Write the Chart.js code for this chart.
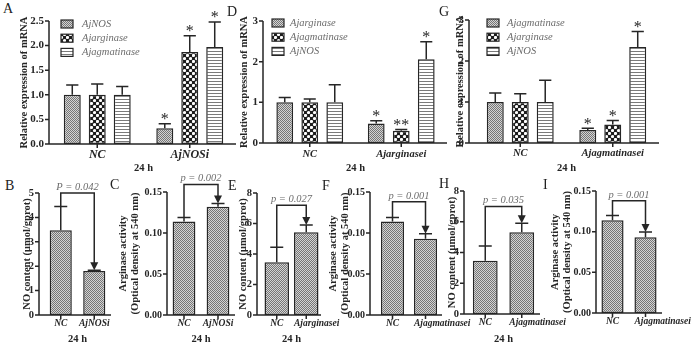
<!DOCTYPE html>
<html>
<head>
<meta charset="utf-8">
<script src="https://cdn.jsdelivr.net/npm/chart.js@4.4.1/dist/chart.umd.min.js"></script>
<style>
  html, body { margin: 0; padding: 0; background: #fff; }
  #fig { position: relative; width: 700px; height: 345px; overflow: hidden; background: #fff; }
  #fig canvas { position: absolute; }
  .tag { position: absolute; font: 14px/14px 'Liberation Serif', 'Times New Roman', serif; color: #222; }
</style>
</head>
<body>
<div id="fig"></div>
<script>
// ---- top row: relative expression of mRNA (mean and SD per gene) ----
const groupsA = ['NC', 'AjNOSi'];
const genesA = ['AjNOS', 'Ajarginase', 'Ajagmatinase'];
const meanA = [[1.00, 0.32], [1.00, 1.87], [1.00, 1.97]];
const sdA = [[0.20, 0.09], [0.22, 0.33], [0.17, 0.51]];
const starA = [['', '*'], ['', '*'], ['', '*']];

const groupsD = ['NC', 'Ajarginasei'];
const genesD = ['Ajarginase', 'Ajagmatinase', 'AjNOS'];
const meanD = [[1.00, 0.48], [1.00, 0.30], [1.00, 2.06]];
const sdD = [[0.12, 0.07], [0.08, 0.03], [0.43, 0.43]];
const starD = [['', '*'], ['', '**'], ['', '*']];

const groupsG = ['NC', 'Ajagmatinasei'];
const genesG = ['Ajagmatinase', 'Ajarginase', 'AjNOS'];
const meanG = [[1.00, 0.32], [1.00, 0.45], [1.00, 2.34]];
const sdG = [[0.22, 0.04], [0.20, 0.10], [0.53, 0.38]];
const starG = [['', '*'], ['', '*'], ['', '*']];

const ticksA = [0, 0.5, 1, 1.5, 2, 2.5];
const ticksDG = [0, 1, 2, 3];

// ---- bottom row: NO content and arginase activity ----
const groupsB = ['NC', 'AjNOSi'];
const meanB = [3.47, 1.80];
const sdB = [0.98, 0.03];

const groupsC = ['NC', 'AjNOSi'];
const meanC = [0.114, 0.132];
const sdC = [0.005, 0.004];

const groupsE = ['NC', 'Ajarginasei'];
const meanE = [3.46, 5.42];
const sdE = [0.98, 0.48];

const groupsF = ['NC', 'Ajagmatinasei'];
const meanF = [0.114, 0.093];
const sdF = [0.005, 0.006];

const groupsH = ['NC', 'Ajagmatinasei'];
const meanH = [3.47, 5.32];
const sdH = [0.95, 0.58];

const groupsI = ['NC', 'Ajagmatinasei'];
const meanI = [0.114, 0.093];
const sdI = [0.006, 0.0065];

const ticksNO5 = [0, 1, 2, 3, 4, 5];
const ticksNO8 = [0, 2, 4, 6, 8];
const ticksArg = [0, 0.05, 0.10, 0.15];

// p-values of B, C, E, F, H, I and the level of their brackets
const pTexts = ['P = 0.042', 'p = 0.002', 'p = 0.027', 'p = 0.001', 'p = 0.035', 'p = 0.001'];
const pLevels = [5.0, 0.159, 7.2, 0.138, 7.0, 0.138];

const titleMRNA = 'Relative expression of mRNA';
const titleNO = 'NO content (\u03bcmol/gprot)';
const titleArg = ['Arginase activity', '(Optical density at 540 nm)'];

const INK = '#262626';
const GRAY = '#6c6c6c';
const SERIF = "'Liberation Serif', 'Times New Roman', serif";

function makePattern(draw, w, h) {
  const c = document.createElement('canvas');
  c.width = w; c.height = h;
  const g = c.getContext('2d');
  draw(g);
  return g.createPattern(c, 'repeat');
}

const fineFill = makePattern(g => {
  g.fillStyle = '#d4d4d4'; g.fillRect(0, 0, 2, 2);
  g.fillStyle = '#767676'; g.fillRect(0, 0, 1, 1); g.fillRect(1, 1, 1, 1);
}, 2, 2);
const dotFill = makePattern(g => {
  g.fillStyle = '#1c1c1c'; g.fillRect(0, 0, 6, 6);
  g.fillStyle = '#fff';
  [[1.5, 1.5], [4.5, 4.5]].forEach(([x, y]) => { g.beginPath(); g.arc(x, y, 1.6, 0, Math.PI * 2); g.fill(); });
}, 6, 6);
const lineFill = makePattern(g => {
  g.fillStyle = '#fff'; g.fillRect(0, 0, 3, 3);
  g.fillStyle = '#7a7a7a'; g.fillRect(0, 0, 3, 1);
}, 3, 3);
const fills = [fineFill, dotFill, lineFill];

function grouped(genes, means, sds, stars) {
  return genes.map((g, i) => ({ name: g, mean: means[i], err: sds[i], stars: stars[i], fill: fills[i] }));
}
function single(means, sds) {
  return [{ name: '', mean: means, err: sds, stars: null, fill: fineFill }];
}

// long treatment names in the bottom row start at the bar's left edge
const CENTER = ['center', 'center'];
const SHIFT = ['center', 'left'];

const panels = [
  { tag: 'A', tagAt: [3, 2], box: [0, 0, 240, 174], area: [51, 21, 236, 144], axisX: 49,
    cats: groupsA, series: grouped(genesA, meanA, sdA, starA), ticks: ticksA, dec: 1, tickSize: 11,
    yTitle: titleMRNA, yTitleX: 24, xTitle: '24 h', catSize: 12, catY: 11, catAlign: CENTER,
    catPct: 0.81, barPct: 0.68, legend: { x: 61, y: 24, gap: 9 } },
  { tag: 'D', tagAt: [227, 5], box: [226, 0, 230, 174], area: [264, 21, 447, 143], axisX: 263,
    cats: groupsD, series: grouped(genesD, meanD, sdD, starD), ticks: ticksDG, dec: 0, tickSize: 11,
    yTitle: titleMRNA, yTitleX: 244, xTitle: '24 h', catSize: 10.5, catY: 11.5, catAlign: CENTER,
    catPct: 0.82, barPct: 0.67, legend: { x: 272, y: 23, gap: 6 } },
  { tag: 'G', tagAt: [439, 5], box: [446, 0, 254, 174], area: [474, 20, 659, 143], axisX: 469,
    cats: groupsG, series: grouped(genesG, meanG, sdG, starG), ticks: ticksDG, dec: 0, tickSize: 11,
    yTitle: titleMRNA, yTitleX: 460, xTitle: '24 h', catSize: 10.5, catY: 10.5, catAlign: CENTER,
    catPct: 0.81, barPct: 0.68, legend: { x: 487, y: 23, gap: 8 } },
  { tag: 'B', tagAt: [5, 179], box: [0, 170, 118, 175], area: [44, 193, 111, 315], axisX: 39,
    cats: groupsB, series: single(meanB, sdB), ticks: ticksNO5, dec: 0, tickSize: 10.5,
    yTitle: titleNO, yTitleX: 27, xTitle: '24 h', catSize: 9.5, catY: 9, catAlign: CENTER,
    catPct: 1, barPct: 0.66, bracket: { text: pTexts[0], level: pLevels[0] } },
  { tag: 'C', tagAt: [110, 178], box: [110, 170, 128, 175], area: [167, 192, 235, 315], axisX: 167,
    cats: groupsC, series: single(meanC, sdC), ticks: ticksArg, dec: 2, tickSize: 10,
    yTitle: titleArg, yTitleX: 123, xTitle: '24 h', catSize: 9.5, catY: 9, catAlign: CENTER,
    catPct: 1, barPct: 0.67, bracket: { text: pTexts[1], level: pLevels[1] } },
  { tag: 'E', tagAt: [228, 179], box: [225, 170, 120, 175], area: [262, 193, 321, 315], axisX: 257,
    cats: groupsE, series: single(meanE, sdE), ticks: ticksNO8, dec: 0, tickSize: 10.5,
    yTitle: titleNO, yTitleX: 243, xTitle: '24 h', catSize: 9.5, catY: 9, catAlign: SHIFT,
    catPct: 1, barPct: 0.83, bracket: { text: pTexts[2], level: pLevels[2] } },
  { tag: 'F', tagAt: [322, 179], box: [322, 170, 160, 175], area: [376, 192, 442, 315], axisX: 370,
    cats: groupsF, series: single(meanF, sdF), ticks: ticksArg, dec: 2, tickSize: 10,
    yTitle: titleArg, yTitleX: 333, xTitle: null, catSize: 9.5, catY: 9, catAlign: SHIFT,
    catPct: 1, barPct: 0.70, bracket: { text: pTexts[3], level: pLevels[3] } },
  { tag: 'H', tagAt: [439, 177], box: [440, 170, 140, 175], area: [467, 191, 540, 314], axisX: 464,
    cats: groupsH, series: single(meanH, sdH), ticks: ticksNO8, dec: 0, tickSize: 10.5,
    yTitle: titleNO, yTitleX: 452, xTitle: '24 h', catSize: 9.5, catY: 9, catAlign: SHIFT,
    catPct: 1, barPct: 0.68, bracket: { text: pTexts[4], level: pLevels[4] } },
  { tag: 'I', tagAt: [543, 178], box: [540, 170, 160, 175], area: [596, 191, 662, 313], axisX: 596,
    cats: groupsI, series: single(meanI, sdI), ticks: ticksArg, dec: 2, tickSize: 10,
    yTitle: titleArg, yTitleX: 555, xTitle: null, catSize: 9.5, catY: 9, catAlign: SHIFT,
    catPct: 1, barPct: 0.67, bracket: { text: pTexts[5], level: pLevels[5] } }
];

// axes, category labels, error bars, asterisks, legend and p-value brackets
function decor(p) {
  return {
    id: 'decor',
    afterDraw(chart) {
      const ctx = chart.ctx, area = chart.chartArea;
      const xs = chart.scales.x, ys = chart.scales.y;
      const ds = chart.data.datasets;
      const [x0, y0] = p.box;
      const ax = p.axisX - x0;
      ctx.save();
      ctx.strokeStyle = INK; ctx.fillStyle = INK; ctx.lineWidth = 1.5;

      ctx.beginPath();
      ctx.moveTo(ax, ys.getPixelForValue(p.ticks[p.ticks.length - 1]));
      ctx.lineTo(ax, area.bottom);
      ctx.lineTo(area.right, area.bottom);
      p.ticks.forEach(v => {
        const y = ys.getPixelForValue(v);
        ctx.moveTo(ax - 4, y); ctx.lineTo(ax, y);
      });
      p.cats.forEach((c, i) => {
        const x = xs.getPixelForValue(i);
        ctx.moveTo(x, area.bottom); ctx.lineTo(x, area.bottom + 4);
      });
      ctx.stroke();

      // category names
      const first = chart.getDatasetMeta(0).data;
      ctx.font = `italic bold ${p.catSize}px ${SERIF}`;
      ctx.textBaseline = 'middle';
      p.cats.forEach((c, i) => {
        const x = xs.getPixelForValue(i);
        if (p.catAlign[i] === 'left') {
          ctx.textAlign = 'left';
          ctx.fillText(c, first[i].x - first[i].width / 2, area.bottom + p.catY);
        } else {
          ctx.textAlign = 'center';
          ctx.fillText(c, x, area.bottom + p.catY);
        }
      });

      ds.forEach((d, di) => {
        chart.getDatasetMeta(di).data.forEach((bar, i) => {
          const yErr = ys.getPixelForValue(d.data[i] + d.err[i]);
          const half = Math.min(6.5, bar.width * 0.36);
          ctx.strokeStyle = INK; ctx.lineWidth = 1.5;
          ctx.beginPath();
          ctx.moveTo(bar.x, bar.y); ctx.lineTo(bar.x, yErr);
          ctx.moveTo(bar.x - half, yErr); ctx.lineTo(bar.x + half, yErr);
          ctx.stroke();
          if (d.stars && d.stars[i]) {
            ctx.fillStyle = INK;
            ctx.font = `16px ${SERIF}`;
            ctx.textAlign = 'center'; ctx.textBaseline = 'alphabetic';
            ctx.fillText(d.stars[i], bar.x, yErr + 0.5);
          }
        });
      });

      if (p.legend) {
        ctx.font = `italic 10.5px ${SERIF}`;
        ctx.textAlign = 'left'; ctx.textBaseline = 'middle';
        ds.forEach((d, i) => {
          const lx = p.legend.x - x0, ly = p.legend.y + i * 14.2 - y0;
          ctx.fillStyle = d.backgroundColor;
          ctx.fillRect(lx, ly - 4, 12, 8);
          ctx.lineWidth = 1.2; ctx.strokeStyle = INK;
          ctx.strokeRect(lx, ly - 4, 12, 8);
          ctx.fillStyle = GRAY;
          ctx.fillText(d.label, lx + 12 + p.legend.gap, ly);
        });
      }

      if (p.bracket) {
        const d = ds[0];
        const x1 = first[0].x, x2 = first[1].x;
        const y1 = ys.getPixelForValue(d.data[0] + d.err[0]);
        const y2 = ys.getPixelForValue(d.data[1] + d.err[1]);
        const yb = ys.getPixelForValue(p.bracket.level);
        ctx.strokeStyle = INK; ctx.fillStyle = INK; ctx.lineWidth = 1.5;
        ctx.beginPath();
        ctx.moveTo(x1, y1); ctx.lineTo(x1, yb); ctx.lineTo(x2, yb); ctx.lineTo(x2, y2 - 7);
        ctx.stroke();
        ctx.beginPath();
        ctx.moveTo(x2 - 4, y2 - 8); ctx.lineTo(x2 + 4, y2 - 8); ctx.lineTo(x2, y2);
        ctx.closePath(); ctx.fill();
        ctx.font = `italic 10.5px ${SERIF}`;
        ctx.fillStyle = GRAY; ctx.textAlign = 'center'; ctx.textBaseline = 'middle';
        ctx.fillText(p.bracket.text, (x1 + x2) / 2, yb - 6);
      }
      ctx.restore();
    }
  };
}

function makePanel(p) {
  const fig = document.getElementById('fig');
  const [x0, y0, w, h] = p.box;
  const [L, T, R, B] = p.area;

  const tag = document.createElement('div');
  tag.className = 'tag';
  tag.textContent = p.tag;
  tag.style.left = p.tagAt[0] + 'px';
  tag.style.top = p.tagAt[1] + 'px';
  fig.appendChild(tag);

  const cv = document.createElement('canvas');
  cv.width = w; cv.height = h;
  cv.style.left = x0 + 'px'; cv.style.top = y0 + 'px';
  cv.style.width = w + 'px'; cv.style.height = h + 'px';
  fig.appendChild(cv);

  const titleFont = { family: SERIF, size: 10.5, weight: 'bold', lineHeight: 1.15 };
  const half = 10.5 * 1.15 / 2;

  new Chart(cv, {
    type: 'bar',
    data: {
      labels: p.cats,
      datasets: p.series.map(s => ({
        label: s.name,
        data: s.mean,
        err: s.err,
        stars: s.stars,
        backgroundColor: s.fill,
        borderColor: INK,
        borderWidth: 1.5,
        borderSkipped: false,
        categoryPercentage: p.catPct,
        barPercentage: p.barPct
      }))
    },
    options: {
      responsive: false,
      animation: false,
      devicePixelRatio: 1,
      events: [],
      layout: { padding: { left: 0, top: T - y0, right: x0 + w - R, bottom: 0 } },
      plugins: { legend: { display: false }, tooltip: { enabled: false } },
      scales: {
        x: {
          grid: { display: false, drawTicks: false },
          border: { display: false },
          ticks: { display: false },
          title: { display: !!p.xTitle, text: p.xTitle || '', color: INK, font: titleFont, padding: 0 },
          afterFit: s => { s.height = y0 + h - B; }
        },
        y: {
          min: 0,
          max: p.ticks[p.ticks.length - 1],
          grid: { display: false, drawTicks: false },
          border: { display: false },
          ticks: {
            color: INK, padding: L - p.axisX + 5,
            font: { family: SERIF, size: p.tickSize, weight: 'bold' },
            callback: v => Number(v).toFixed(p.dec)
          },
          afterBuildTicks: s => { s.ticks = p.ticks.map(v => ({ value: v })); },
          title: {
            display: true, text: p.yTitle, color: INK, font: titleFont,
            padding: { top: p.yTitleX - x0 - half, bottom: 0 }
          },
          afterFit: s => { s.width = L - x0; }
        }
      }
    },
    plugins: [decor(p)]
  });
}

panels.forEach(makePanel);
</script>
</body>
</html>
